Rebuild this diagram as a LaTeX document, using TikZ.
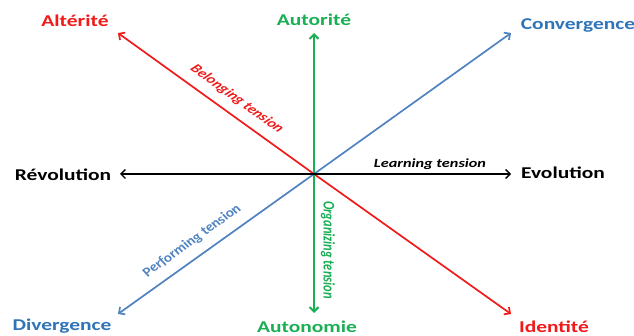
\documentclass[tikz,border=0pt]{standalone}
\usepackage{fontspec}
\setmainfont{Carlito}
\usepackage{xcolor}
\usetikzlibrary{arrows.meta}
\definecolor{TRed}{HTML}{F01A1A}
\definecolor{TGreen}{HTML}{1AAE55}
\definecolor{TBlue}{HTML}{5083C0}
\definecolor{TBlueText}{HTML}{2F74B8}

\begin{document}
\begin{tikzpicture}[x=1pt, y=-1pt, >={Straight Barb[length=4.5pt,width=9pt]}]
\tikzset{pole/.style={font=\fontsize{16.5}{18}\selectfont\bfseries, xscale=1.3, inner sep=1pt}, tens/.style={font=\fontsize{12.5}{14}\selectfont\bfseries\itshape, xscale=1.3, inner sep=1pt}, axis/.style={->, line width=1.7pt}}
\useasboundingbox (0,0) rectangle (634,336);
% the crossing point and the arrow ends
\coordinate (c) at (314,174);
\coordinate (alt) at (118,33); \coordinate (ide) at (511,314);
\coordinate (aut) at (314,33); \coordinate (aton) at (314,313);
\coordinate (conv) at (511,33); \coordinate (div) at (118,314);
\coordinate (rev) at (120,174); \coordinate (evo) at (511,174);
% poles
\node[pole, TRed] (altlbl) at (75,21) {Altérité};
\node[pole, TGreen] (autlbl) at (314,20) {Autorité};
\node[pole, TBlueText] (convlbl) at (578,25) {Convergence};
\node[pole] (revlbl) at (63,175) {Révolution};
\node[pole] (evolbl) at (563,173) {Evolution};
\node[pole, TBlueText] (divlbl) at (62,326.5) {Divergence};
\node[pole, TGreen] (atonlbl) at (307,326.5) {Autonomie};
\node[pole, TRed] (idelbl) at (554,326.5) {Identité};
% axes
\draw[axis, TRed] (c)--(alt); \draw[axis, TRed] (c)--(ide);
\draw[axis, TGreen, line width=2.1pt] (c)--(aut); \draw[axis, TGreen, line width=2.1pt] (c)--(aton);
\draw[axis, TBlue] (c)--(conv); \draw[axis, TBlue] (c)--(div);
\draw[axis, black, line width=1.3pt] (c)--(rev); \draw[axis, black, line width=1.3pt] (c)--(evo);
% tensions
\node[tens, TRed, rotate=-43] (belong) at (237,99) {Belonging tension};
\node[tens] (learn) at (430,164) {Learning tension};
\node[tens, TBlue, rotate=43] (perf) at (192,241) {Performing tension};
\node[tens, TGreen, rotate=-90] (orga) at (328,250) {Organizing tension};
\end{tikzpicture}
\end{document}
